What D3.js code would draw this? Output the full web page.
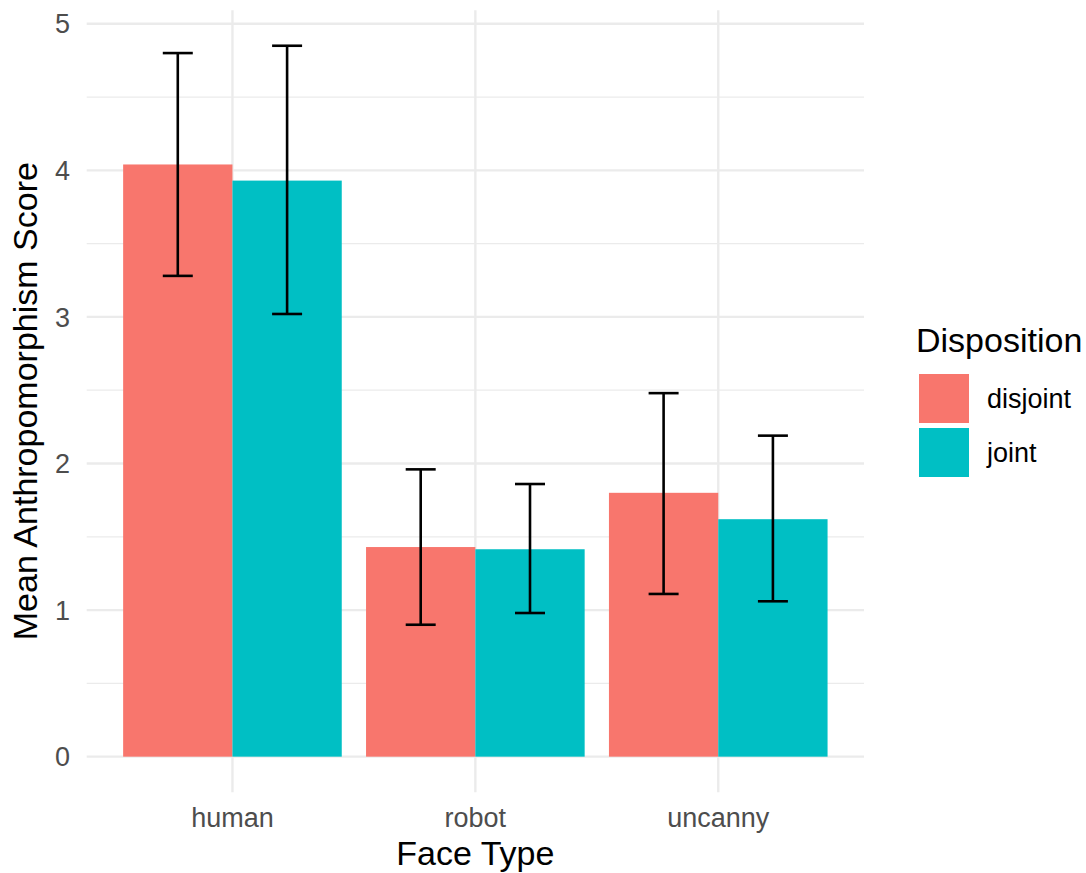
<!DOCTYPE html>
<html>
<head>
<meta charset="utf-8">
<script src="https://cdn.jsdelivr.net/npm/d3@7"></script>
<style>
  body { margin: 0; background: #fff; }
  text { font-family: "Liberation Sans", Arial, Helvetica, sans-serif; }
</style>
</head>
<body>
<svg id="chart" width="1086" height="873"></svg>
<script>
// data
const faceTypes = ["human", "robot", "uncanny"];
const dispositions = ["disjoint", "joint"];
const meanDisjoint = [4.04, 1.43, 1.80];
const meanJoint = [3.93, 1.415, 1.62];
const lowerDisjoint = [3.28, 0.90, 1.11];
const lowerJoint = [3.02, 0.98, 1.06];
const upperDisjoint = [4.80, 1.96, 2.48];
const upperJoint = [4.85, 1.86, 2.19];
const yTicks = [0, 1, 2, 3, 4, 5];
const yMinor = [0.5, 1.5, 2.5, 3.5, 4.5];
const fillColors = ["#F8766D", "#00BFC4"];

const rows = [];
faceTypes.forEach((f, i) => {
  rows.push({ face: f, disp: "disjoint", mean: meanDisjoint[i], lo: lowerDisjoint[i], hi: upperDisjoint[i] });
  rows.push({ face: f, disp: "joint", mean: meanJoint[i], lo: lowerJoint[i], hi: upperJoint[i] });
});

const svg = d3.select("#chart");
const panel = { left: 86.7, right: 864, top: 10.2, bottom: 792.2 };

// ggplot-like expansion: 5% of range on each side
const yMax = d3.max(rows, d => d.hi);
const pad = yMax * 0.05;
const y = d3.scaleLinear()
  .domain([0 - pad, yMax + pad])
  .range([panel.bottom, panel.top]);

const x = d3.scaleBand()
  .domain(faceTypes)
  .range([panel.left, panel.right])
  .paddingInner(0.1)
  .paddingOuter(0.15);

const xDodge = d3.scaleBand()
  .domain(dispositions)
  .range([0, x.bandwidth()])
  .padding(0);

const color = d3.scaleOrdinal().domain(dispositions).range(fillColors);

// grid
const grid = svg.append("g");
grid.selectAll(".minor").data(yMinor).join("line")
  .attr("x1", panel.left).attr("x2", panel.right)
  .attr("y1", d => y(d)).attr("y2", d => y(d))
  .attr("stroke", "#EBEBEB").attr("stroke-width", 1.3);
grid.selectAll(".major").data(yTicks).join("line")
  .attr("x1", panel.left).attr("x2", panel.right)
  .attr("y1", d => y(d)).attr("y2", d => y(d))
  .attr("stroke", "#EBEBEB").attr("stroke-width", 2.4);
grid.selectAll(".vmajor").data(faceTypes).join("line")
  .attr("x1", d => x(d) + x.bandwidth() / 2).attr("x2", d => x(d) + x.bandwidth() / 2)
  .attr("y1", panel.top).attr("y2", panel.bottom)
  .attr("stroke", "#EBEBEB").attr("stroke-width", 2.4);

// bars
svg.append("g").selectAll("rect").data(rows).join("rect")
  .attr("x", d => x(d.face) + xDodge(d.disp))
  .attr("width", xDodge.bandwidth())
  .attr("y", d => y(d.mean))
  .attr("height", d => y(0) - y(d.mean))
  .attr("fill", d => color(d.disp));

// error bars
const capHalf = 15;
const eb = svg.append("g").attr("stroke", "#000").attr("stroke-width", 2.6).attr("fill", "none");
rows.forEach(d => {
  const cx = x(d.face) + xDodge(d.disp) + xDodge.bandwidth() / 2;
  eb.append("line").attr("x1", cx).attr("x2", cx).attr("y1", y(d.lo)).attr("y2", y(d.hi));
  eb.append("line").attr("x1", cx - capHalf).attr("x2", cx + capHalf).attr("y1", y(d.hi)).attr("y2", y(d.hi));
  eb.append("line").attr("x1", cx - capHalf).attr("x2", cx + capHalf).attr("y1", y(d.lo)).attr("y2", y(d.lo));
});

// y tick labels
svg.append("g").selectAll("text").data(yTicks).join("text")
  .attr("x", 70).attr("y", d => y(d)).attr("dy", "0.36em")
  .attr("text-anchor", "end")
  .attr("font-size", 27).attr("fill", "#4D4D4D")
  .text(d => d);

// x tick labels
svg.append("g").selectAll("text").data(faceTypes).join("text")
  .attr("x", d => x(d) + x.bandwidth() / 2).attr("y", 827)
  .attr("text-anchor", "middle")
  .attr("font-size", 27).attr("fill", "#4D4D4D")
  .text(d => d);

// axis titles
svg.append("text")
  .attr("x", (panel.left + panel.right) / 2).attr("y", 865)
  .attr("text-anchor", "middle").attr("font-size", 34).attr("fill", "#000")
  .text("Face Type");

svg.append("text")
  .attr("transform", `translate(37,${(panel.top + panel.bottom) / 2}) rotate(-90)`)
  .attr("text-anchor", "middle").attr("font-size", 34).attr("fill", "#000")
  .text("Mean Anthropomorphism Score");

// legend
const legend = svg.append("g");
legend.append("text")
  .attr("x", 916).attr("y", 352)
  .attr("font-size", 34).attr("fill", "#000")
  .text("Disposition");
dispositions.forEach((k, i) => {
  const top = 374 + i * 54;
  legend.append("rect")
    .attr("x", 919).attr("y", top).attr("width", 50).attr("height", 49)
    .attr("fill", color(k));
  legend.append("text")
    .attr("x", 987).attr("y", top + 34)
    .attr("font-size", 27).attr("fill", "#000")
    .text(k);
});
</script>
</body>
</html>
